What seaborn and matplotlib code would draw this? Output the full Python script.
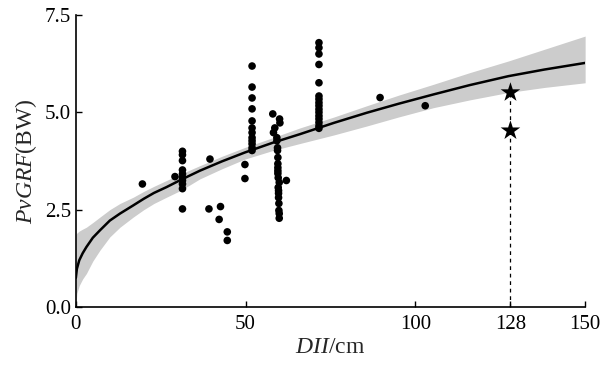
import numpy as np
import pandas as pd
import matplotlib
matplotlib.use("Agg")
import matplotlib.pyplot as plt
import seaborn as sns

# measured points (DII in cm, PvGRF in BW)
dii = [19.6, 29.2,
       31.4, 31.4, 31.4, 31.4, 31.4, 31.4, 31.4, 31.4, 31.4, 31.4,
       39.5, 39.2, 42.6, 42.2, 44.6, 44.6,
       49.8, 49.8,
       51.9, 51.9, 51.9, 51.9, 51.9, 51.9, 51.9, 51.9, 51.9, 51.9, 51.9, 51.9,
       58.0, 60.0, 60.1, 58.6, 58.2, 59.2, 59.2, 59.4, 59.4, 59.5, 59.5, 59.5,
       59.5, 59.5, 59.6, 59.6, 59.7, 59.7, 59.7, 59.8, 59.8, 59.9, 59.9, 59.9,
       62.0,
       71.6, 71.6, 71.6, 71.6, 71.6, 71.6, 71.6, 71.6, 71.6, 71.6, 71.6, 71.6,
       71.6, 71.6, 71.6, 71.6,
       89.6, 102.9]
grf = [3.16, 3.35,
       4.00, 3.91, 3.76, 3.52, 3.42, 3.33, 3.25, 3.16, 3.04, 2.52,
       3.80, 2.52, 2.58, 2.25, 1.93, 1.71,
       3.66, 3.30,
       6.19, 5.65, 5.37, 5.09, 4.78, 4.60, 4.48, 4.35, 4.27, 4.19, 4.09, 4.02,
       4.96, 4.83, 4.73, 4.60, 4.48, 4.35, 4.27, 4.09, 4.02, 3.84, 3.68, 3.58,
       3.50, 3.43, 3.32, 3.07, 2.99, 2.92, 2.81, 2.66, 2.48, 2.40, 2.28, 3.20,
       3.25,
       6.79, 6.66, 6.50, 6.23, 5.76, 5.42, 5.34, 5.25, 5.17, 5.08, 5.00, 4.91,
       4.83, 4.74, 4.65, 4.59,
       5.38, 5.17]

# predicted values at DII = 128 cm
star_x = [128, 128]
star_y = [5.51, 4.53]

# fitted curve and confidence band
fit_x = [0, 0.3, 1, 2, 3.1, 5, 7.1, 10, 13, 16.9, 20, 23, 26.7, 31, 36.5, 43,
         49.8, 58, 66, 76, 85.7, 95, 105.3, 116, 127.4, 138, 150]
fit_y = [0.75, 0.98, 1.20, 1.38, 1.54, 1.78, 1.97, 2.22, 2.40, 2.61, 2.78, 2.93,
         3.08, 3.27, 3.50, 3.74, 3.97, 4.22, 4.44, 4.73, 4.99, 5.22, 5.46, 5.70,
         5.93, 6.10, 6.27]
band_lo = [0.0, 0.35, 0.55, 0.72, 0.86, 1.18, 1.46, 1.80, 2.05, 2.31, 2.50, 2.66,
           2.82, 3.00, 3.29, 3.55, 3.80, 4.02, 4.20, 4.42, 4.65, 4.88, 5.12, 5.32,
           5.51, 5.64, 5.76]
band_hi = [1.85, 1.90, 1.95, 2.00, 2.05, 2.17, 2.31, 2.50, 2.66, 2.82, 2.97, 3.10,
           3.25, 3.42, 3.63, 3.87, 4.10, 4.35, 4.60, 4.88, 5.17, 5.44, 5.72, 6.02,
           6.32, 6.62, 6.96]

pts = pd.DataFrame({"DII": dii, "GRF": grf})
stars = pd.DataFrame({"DII": star_x, "GRF": star_y})
fit = pd.DataFrame({"DII": fit_x, "GRF": fit_y})

sns.set_style("ticks")
plt.rcParams["font.family"] = ["Liberation Serif", "DejaVu Serif"]
plt.rcParams["mathtext.fontset"] = "custom"
plt.rcParams["mathtext.rm"] = "Liberation Serif"
plt.rcParams["mathtext.it"] = "Liberation Serif:italic"

fig = plt.figure(figsize=(6.02, 3.76), dpi=100)
ax = fig.add_axes([0.126, 0.1835, 0.846, 0.7765])

ax.fill_between(fit_x, band_lo, band_hi, color="#cccccc", linewidth=0, zorder=1)
sns.lineplot(data=fit, x="DII", y="GRF", color="black", linewidth=1.8, ax=ax, zorder=3)
sns.scatterplot(data=pts, x="DII", y="GRF", color="black", s=30, edgecolor="none", ax=ax, zorder=4)
ax.plot([128, 128], [0, star_y[0]], color="black", linestyle=(0, (3, 3)), linewidth=0.9, zorder=2)
sns.scatterplot(data=stars, x="DII", y="GRF", color="black", marker="*", s=220,
                edgecolor="none", ax=ax, zorder=5)

ax.set_xlim(0, 150)
ax.set_ylim(0, 7.5)
ax.set_xticks([0, 50, 100, 128, 150])
ax.set_xticklabels(["0", "50", "100", "128", "150"])
ax.set_yticks([0, 2.5, 5.0, 7.5])
ax.set_yticklabels(["0.0", "2.5", "5.0", "7.5"])
ax.tick_params(direction="in", length=4, width=1, labelsize=15, colors="black")
ax.tick_params(axis="x", pad=6)
sns.despine(ax=ax)
for s in ["left", "bottom"]:
    ax.spines[s].set_linewidth(1.2)
    ax.spines[s].set_color("black")

ax.set_xlabel(r"$DII$/cm", fontsize=17, labelpad=2)
ax.set_ylabel(r"$PvGRF$(BW)", fontsize=17, labelpad=4)

fig.savefig("out.png", dpi=100)
